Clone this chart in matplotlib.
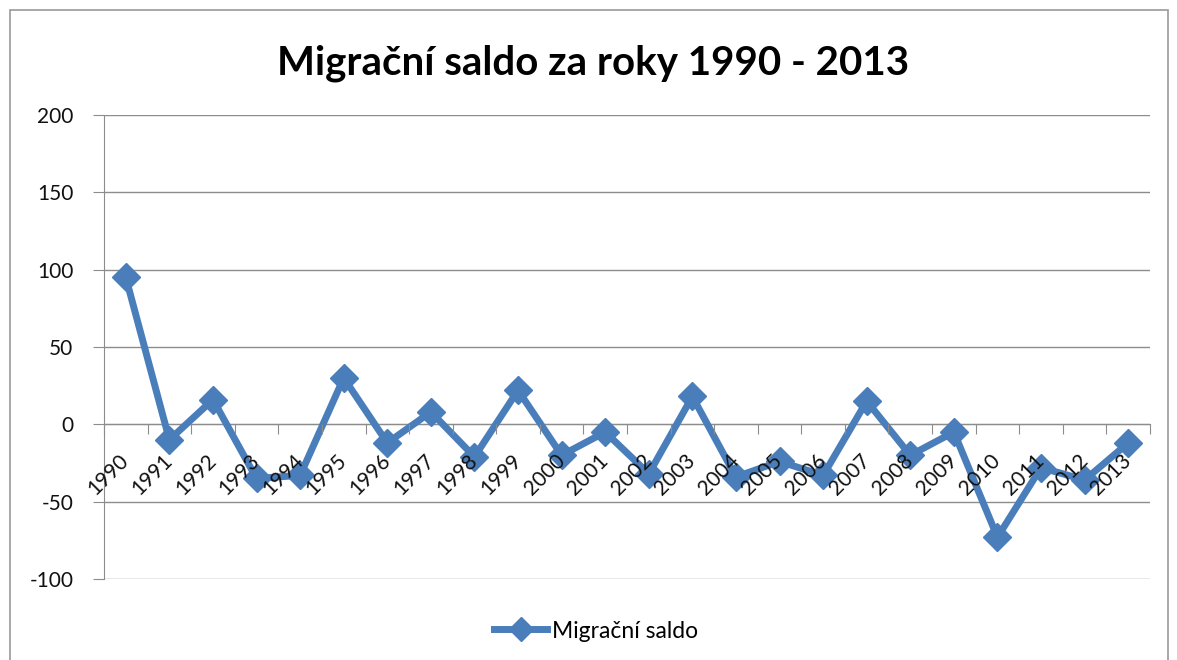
import matplotlib
matplotlib.use("Agg")
import matplotlib.pyplot as plt
from matplotlib.patches import Rectangle

years = [str(y) for y in range(1990, 2014)]
values = [95, -10, 16, -35, -33, 30, -12, 8, -21, 22, -20, -5, -32, 18, -34, -24, -33, 15, -20, -5, -73, -28, -36, -12]
series_name = "Migrační saldo"
title = "Migrační saldo za roky 1990 - 2013"
yticks = [-100, -50, 0, 50, 100, 150, 200]

plt.rcParams['font.family'] = ['Lato', 'DejaVu Sans']
plt.rcParams['axes.unicode_minus'] = False

fig = plt.figure(figsize=(11.77, 6.6), dpi=100)
W, H = 1177, 660
ax = fig.add_axes([104 / W, 1 - 579 / H, (1150 - 104) / W, (579 - 115) / H])

# chart border
fig.patches.append(Rectangle((10 / W, -0.05), (1168 - 10) / W, 1 - 10 / H + 0.05,
                             transform=fig.transFigure, fill=False,
                             edgecolor='#9a9a9a', linewidth=1.2))

color = '#4A7EBB'
x = list(range(len(years)))
ax.plot(x, values, color=color, linewidth=5, marker='D', markersize=14,
        markerfacecolor=color, markeredgecolor=color, label=series_name,
        zorder=3, solid_joinstyle='miter')

ax.set_xlim(-0.5, len(years) - 0.5)
ax.set_ylim(-100, 200)
ax.set_yticks(yticks)
ax.yaxis.grid(True, color='#8c8c8c', linewidth=1)
ax.set_axisbelow(True)
ax.xaxis.set_zorder(5)
ax.tick_params(axis='y', length=8, color='#8c8c8c', labelsize=15, pad=14,
               labelcolor='#111111')

for s in ['top', 'right']:
    ax.spines[s].set_visible(False)
ax.spines['left'].set_color('#8c8c8c')
ax.spines['bottom'].set_position(('data', 0))
ax.spines['bottom'].set_color('#8c8c8c')
ax.spines['bottom'].set_zorder(1)

# major ticks at category boundaries, labels at centers
ax.set_xticks([i - 0.5 for i in range(len(years) + 1)])
ax.set_xticklabels([])
ax.tick_params(axis='x', which='major', length=7, color='#8c8c8c', direction='out')
ax.set_xticks(x, minor=True)
ax.set_xticklabels(years, minor=True, rotation=45, ha='right', va='center',
                   rotation_mode='anchor', fontsize=15, color='#111111')
ax.tick_params(axis='x', which='minor', length=0, pad=24)

fig.text(593 / W, 1 - 63 / H, title, ha='center', va='center',
         fontsize=29, fontweight='bold', color='black')

leg = fig.legend(loc='center', bbox_to_anchor=(596 / W, 1 - 631 / H),
                 frameon=False, fontsize=16.5, handlelength=2.3, handletextpad=0.2,
                 markerscale=0.85)

fig.savefig('out.png', dpi=100, facecolor='white')
